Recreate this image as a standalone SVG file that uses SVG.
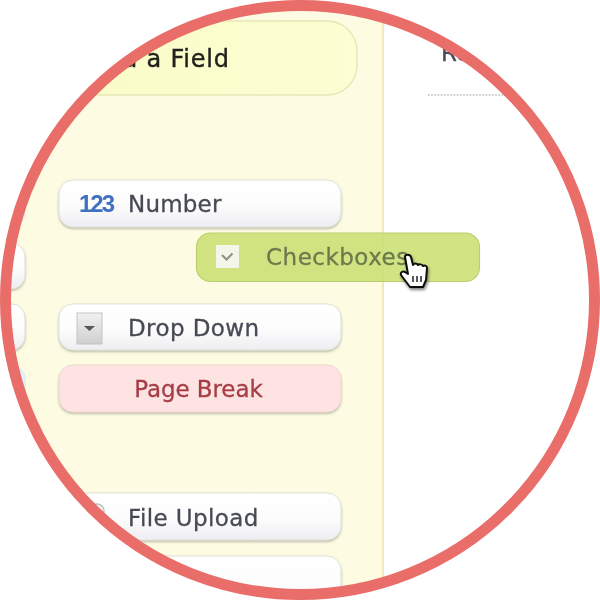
<svg xmlns="http://www.w3.org/2000/svg" width="600" height="600" viewBox="0 0 600 600">
<style>
.t{font-family:"DejaVu Sans","Liberation Sans",sans-serif;font-size:23px;fill:#474a55;stroke:#474a55;stroke-width:0.3}
.b{fill:url(#btn);stroke:#e2e1da;stroke-width:1;filter:url(#sh)}
</style>
<defs>
<linearGradient id="btn" x1="0" y1="0" x2="0" y2="1"><stop offset="0" stop-color="#ffffff"/><stop offset="0.55" stop-color="#fcfcfc"/><stop offset="1" stop-color="#eeeef2"/></linearGradient>
<linearGradient id="dd" x1="0" y1="0" x2="0" y2="1"><stop offset="0" stop-color="#f1f1f1"/><stop offset="1" stop-color="#cfcfcf"/></linearGradient>
<linearGradient id="top" x1="0" y1="0" x2="1" y2="0"><stop offset="0" stop-color="#f9fcc4"/><stop offset="1" stop-color="#fcfed3"/></linearGradient>
<filter id="sh" x="-5%" y="-20%" width="110%" height="140%"><feDropShadow dx="0" dy="1.5" stdDeviation="1.3" flood-color="#77776e" flood-opacity="0.5"/></filter>
<filter id="soft" x="-10%" y="-10%" width="120%" height="120%"><feGaussianBlur stdDeviation="0.5"/></filter>
<filter id="cs" x="-30%" y="-30%" width="160%" height="160%"><feDropShadow dx="1" dy="2" stdDeviation="1.5" flood-color="#000" flood-opacity="0.5"/></filter>
<clipPath id="c"><circle cx="300" cy="300" r="295"/></clipPath>
</defs>
<rect width="600" height="600" fill="#fff"/>
<g clip-path="url(#c)">
<g id="panel">
<rect x="0" y="0" width="383" height="600" fill="#fdfce3"/>
<line x1="383" y1="0" x2="383" y2="600" stroke="#f0e3b0" stroke-width="1.6"/>
</g>
<g id="add-field" filter="url(#soft)">
<rect x="20" y="21" width="337" height="74" rx="30" fill="url(#top)" stroke="#e6e7b8" stroke-width="1.4"/>
<text x="122" y="67" font-family="'DejaVu Sans','Liberation Sans',sans-serif" font-size="24" letter-spacing="0.8" fill="#23231e" stroke="#23231e" stroke-width="0.4">d a Field</text>
</g>
<g id="right-label" filter="url(#soft)">
<text x="441" y="61" class="t">Re</text>
<line x1="428" y1="95" x2="510" y2="95" stroke="#b9b9b9" stroke-width="1.4" stroke-dasharray="1.6 1.6"/>
</g>
<g id="left-stubs" filter="url(#soft)">
<rect x="-100" y="180" width="125" height="47" rx="14" fill="#fbfbf6" stroke="#e5e5dc"/>
<rect x="-100" y="243" width="125" height="46" rx="14" class="b"/>
<rect x="-100" y="304" width="125" height="46" rx="14" class="b"/>
<rect x="-100" y="365" width="125" height="47" rx="14" fill="#e4f2fb" stroke="#d9e9f2"/>
</g>
<g id="number" filter="url(#soft)">
<rect x="59" y="180" width="282" height="47" rx="14" class="b"/>
<text x="79" y="212" font-family="'Liberation Sans',sans-serif" font-size="24" font-weight="bold" letter-spacing="-2" fill="#3f70c0">123</text>
<text x="128" y="212" class="t" letter-spacing="0.2">Number</text>
</g>
<g id="drop-down" filter="url(#soft)">
<rect x="59" y="304" width="282" height="46" rx="14" class="b"/>
<rect x="77" y="313" width="25" height="31" fill="url(#dd)" stroke="#c3c3c3"/>
<path d="M84 326h11l-5.500 5z" fill="#55555a"/>
<text x="128" y="336" class="t" letter-spacing="0.4">Drop Down</text>
</g>
<g id="page-break" filter="url(#soft)">
<rect x="59" y="365" width="282" height="47" rx="14" fill="#fde3e1" stroke="#f4d6d2" stroke-width="1" style="filter:url(#sh)"/>
<text x="198.500" y="397" class="t" text-anchor="middle" letter-spacing="-0.1" style="fill:#a63c46;stroke:#a63c46">Page Break</text>
</g>
<g id="file-upload" filter="url(#soft)">
<rect x="59" y="493" width="282" height="47" rx="14" class="b"/>
<circle cx="97" cy="511" r="7" fill="#f4f4f4" stroke="#bdbdbd" stroke-width="1.500"/>
<text x="128" y="526" class="t" letter-spacing="0.4">File Upload</text>
</g>
<g id="next-button">
<rect x="59" y="556" width="282" height="60" rx="14" class="b"/>
</g>
<g id="checkboxes" filter="url(#soft)">
<rect x="196.500" y="233" width="283" height="48.500" rx="14" fill="#c9e070" fill-opacity="0.86" stroke="#b9cf6e" stroke-width="1.200"/>
<rect x="216" y="245" width="23" height="23" fill="#f4f6ea"/>
<path d="M222 255l4.500 4.500 6-6" fill="none" stroke="#8d8f88" stroke-width="2"/>
<text x="266" y="265" class="t" letter-spacing="0.5" style="fill:#6b7a4c;stroke:#6b7a4c">Checkboxes</text>
</g>
<g id="cursor" filter="url(#cs)">
<path d="M405 257c0-3 5-3 6 0l2 8c1-2 4-2 5 0 1-1 4-1 5 1 2-1 4 0 4 2l-1 12-3 7h-13l-9-12c-1-3 2-4 4-3l3 2z" fill="#fff" stroke="#111" stroke-width="2" stroke-linejoin="round"/>
<path d="M413 276v6M417 276v6M421 276v6" stroke="#222" stroke-width="1.500"/>
</g>
</g>
<circle id="ring" cx="300" cy="300" r="294.500" fill="none" stroke="#e96d69" stroke-width="11"/>
</svg>
